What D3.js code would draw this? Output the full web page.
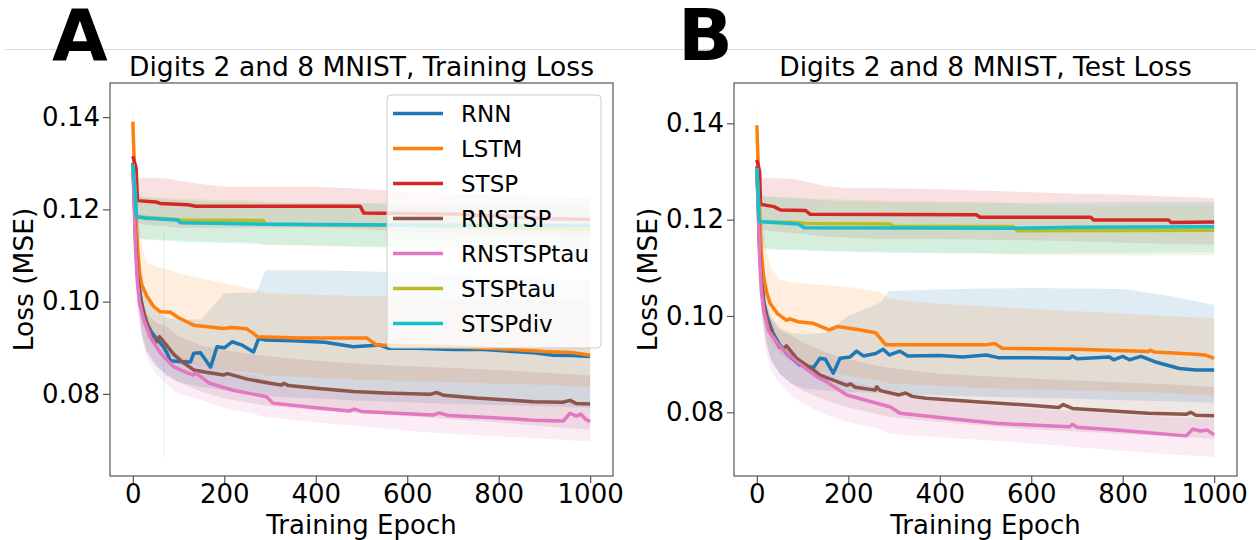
<!DOCTYPE html>
<html><head><meta charset="utf-8">
<script src="https://cdn.jsdelivr.net/npm/d3@7"></script>
<style>
body{margin:0;background:#fff}
svg{display:block}
text{font-family:"DejaVu Sans",sans-serif;fill:#000}
</style>
</head><body><svg id="c" width="1256" height="540"></svg>
<script>
// ---------------- DATA ----------------
const seriesNames = ["RNN","LSTM","STSP","RNSTSP","RNSTSPtau","STSPtau","STSPdiv"];
const seriesColors = ["#1f77b4","#ff7f0e","#d62728","#8c564b","#e377c2","#bcbd22","#17becf"];
const xTicks = [0,200,400,600,800,1000];
const yTicks = [0.08,0.10,0.12,0.14];
const titles = ["Digits 2 and 8 MNIST, Training Loss","Digits 2 and 8 MNIST, Test Loss"];
const panelLetters = ["A","B"];
const xLabel = "Training Epoch";
const yLabel = "Loss (MSE)";

// epochs at which the shaded bands (spread over runs) are read
const bandEpochs = [0,5,10,20,30,50,75,100,150,200,270,290,400,500,600,700,800,900,1000];

// ---- Panel A: training loss, mean curves [epoch, loss] ----
const trainRNN = [[0,0.130],[3,0.124],[6,0.115],[10,0.108],[15,0.1025],[20,0.099],[30,0.0955],[40,0.0935],[50,0.0922],[60,0.091],[67,0.0902],[75,0.0888],[82,0.0872],[100,0.0870],[126,0.0869],[133,0.0888],[148,0.0889],[170,0.0858],[184,0.0902],[200,0.0900],[217,0.0913],[240,0.0905],[264,0.0891],[275,0.0920],[290,0.0917],[350,0.0915],[420,0.0912],[482,0.0902],[540,0.0906],[560,0.0899],[620,0.0899],[700,0.0896],[760,0.0897],[800,0.0894],[876,0.0889],[920,0.0884],[960,0.0883],[1000,0.0881]];
const trainLSTM = [[0,0.139],[3,0.130],[6,0.120],[10,0.112],[15,0.106],[20,0.1035],[31,0.1011],[45,0.099],[60,0.0978],[82,0.0977],[100,0.0965],[133,0.0949],[199,0.0942],[215,0.0944],[249,0.0941],[265,0.0930],[272,0.0924],[365,0.0921],[512,0.0921],[533,0.0906],[600,0.0905],[700,0.0902],[800,0.0898],[900,0.0892],[960,0.0890],[1000,0.0884]];
const trainSTSP = [[0,0.1315],[7,0.129],[10,0.1219],[50,0.1216],[60,0.1213],[120,0.1210],[138,0.1207],[497,0.1207],[505,0.1192],[700,0.1190],[800,0.1185],[900,0.1180],[1000,0.1178]];
const trainRNSTSP = [[0,0.130],[3,0.122],[6,0.113],[10,0.106],[15,0.1015],[24,0.0975],[35,0.094],[43,0.0917],[50,0.0912],[58,0.0924],[70,0.0910],[90,0.0885],[110,0.0868],[133,0.0852],[160,0.0847],[199,0.0841],[207,0.0844],[250,0.0832],[300,0.0823],[325,0.0819],[330,0.0823],[340,0.0818],[400,0.0812],[482,0.0805],[550,0.0802],[650,0.0799],[664,0.0803],[680,0.0797],[750,0.0791],[820,0.0787],[876,0.0783],[940,0.0782],[956,0.0786],[970,0.0779],[1000,0.0778]];
const trainRNSTSPtau = [[0,0.129],[3,0.121],[6,0.111],[10,0.104],[15,0.0995],[24,0.0960],[40,0.0920],[60,0.0889],[89,0.0859],[120,0.0845],[131,0.0841],[138,0.0845],[168,0.0823],[219,0.0808],[260,0.0800],[292,0.0794],[306,0.0780],[400,0.0770],[474,0.0763],[484,0.0767],[500,0.0762],[656,0.0754],[670,0.0759],[690,0.0753],[800,0.0748],[876,0.0743],[941,0.0741],[956,0.0758],[970,0.0752],[980,0.0756],[990,0.0745],[1000,0.0740]];
const trainSTSPtau = [[0,0.1298],[4,0.125],[8,0.1184],[97,0.1178],[105,0.1177],[285,0.1176],[290,0.1168],[600,0.1165],[800,0.1160],[1000,0.1157]];
const trainSTSPdiv = [[0,0.1298],[4,0.125],[8,0.1184],[30,0.1181],[97,0.1177],[105,0.1171],[285,0.1168],[600,0.1166],[1000,0.1165]];

// ---- Panel A: bands (low / high) at bandEpochs ----
const trainRNNLo = [0.1280,0.1100,0.1000,0.0930,0.0890,0.0860,0.0840,0.0825,0.0815,0.0808,0.0800,0.0795,0.0790,0.0785,0.0782,0.0778,0.0776,0.0773,0.0770];
const trainRNNHi = [0.1320,0.1200,0.1130,0.1050,0.1010,0.0980,0.0965,0.0960,0.0962,0.1018,0.1020,0.1068,0.1068,0.1066,0.1063,0.1060,0.1055,0.1050,0.1045];
const trainRNNSpikeEpochs = [67,69];
const trainRNNSpikeLo = [0.0664,0.0664];
const trainRNNSpikeHi = [0.1149,0.1149];
const trainLSTMLo = [0.1343,0.1150,0.1050,0.0960,0.0925,0.0900,0.0885,0.0875,0.0862,0.0852,0.0845,0.0840,0.0835,0.0830,0.0828,0.0825,0.0822,0.0820,0.0815];
const trainLSTMHi = [0.1437,0.1300,0.1200,0.1120,0.1085,0.1076,0.1070,0.1062,0.1050,0.1040,0.1025,0.1018,0.1015,0.1012,0.1010,0.1008,0.1005,0.1003,0.1000];
const trainSTSPLo = [0.1295,0.1290,0.1170,0.1168,0.1166,0.1165,0.1163,0.1160,0.1160,0.1160,0.1160,0.1160,0.1160,0.1158,0.1150,0.1148,0.1145,0.1142,0.1138];
const trainSTSPHi = [0.1335,0.1330,0.1268,0.1268,0.1268,0.1268,0.1267,0.1262,0.1255,0.1249,0.1249,0.1249,0.1249,0.1245,0.1237,0.1235,0.1232,0.1228,0.1224];
const trainRNSTSPLo = [0.1260,0.1090,0.1000,0.0930,0.0895,0.0865,0.0840,0.0825,0.0805,0.0790,0.0778,0.0775,0.0765,0.0758,0.0752,0.0745,0.0738,0.0730,0.0722];
const trainRNSTSPHi = [0.1340,0.1190,0.1090,0.1010,0.0975,0.0955,0.0945,0.0925,0.0905,0.0895,0.0885,0.0882,0.0872,0.0865,0.0860,0.0856,0.0852,0.0846,0.0840];
const trainRNSTSPtauLo = [0.1260,0.1080,0.0990,0.0915,0.0880,0.0845,0.0820,0.0800,0.0787,0.0770,0.0755,0.0750,0.0738,0.0730,0.0720,0.0713,0.0708,0.0703,0.0697];
const trainRNSTSPtauHi = [0.1320,0.1170,0.1070,0.0990,0.0955,0.0925,0.0900,0.0885,0.0865,0.0850,0.0840,0.0830,0.0815,0.0808,0.0800,0.0795,0.0790,0.0785,0.0780];
const trainSTSPtauLo = [0.1285,0.1200,0.1140,0.1138,0.1136,0.1135,0.1134,0.1133,0.1131,0.1130,0.1129,0.1122,0.1120,0.1118,0.1116,0.1114,0.1112,0.1110,0.1108];
const trainSTSPtauHi = [0.1310,0.1290,0.1230,0.1228,0.1227,0.1226,0.1225,0.1224,0.1222,0.1221,0.1220,0.1215,0.1214,0.1212,0.1210,0.1208,0.1206,0.1204,0.1203];
const trainSTSPdivLo = [0.1285,0.1200,0.1137,0.1135,0.1134,0.1133,0.1132,0.1130,0.1128,0.1127,0.1125,0.1124,0.1122,0.1120,0.1118,0.1118,0.1117,0.1116,0.1116];
const trainSTSPdivHi = [0.1310,0.1290,0.1228,0.1226,0.1225,0.1224,0.1222,0.1220,0.1218,0.1216,0.1215,0.1215,0.1214,0.1214,0.1213,0.1213,0.1213,0.1213,0.1212];

// ---- Panel B: test loss, mean curves [epoch, loss] ----
const testRNN = [[0,0.131],[3,0.124],[6,0.115],[10,0.108],[15,0.103],[22,0.100],[35,0.0965],[50,0.094],[65,0.0922],[94,0.0898],[124,0.0893],[138,0.0912],[150,0.0910],[167,0.0881],[182,0.0912],[204,0.0915],[218,0.0927],[233,0.0917],[260,0.0922],[276,0.0931],[290,0.0919],[313,0.0927],[330,0.0917],[400,0.0918],[450,0.0915],[502,0.0919],[530,0.0913],[600,0.0913],[684,0.0912],[690,0.0917],[700,0.0911],[771,0.0915],[780,0.0909],[800,0.0916],[815,0.0909],[840,0.0916],[870,0.0905],[924,0.0891],[960,0.0888],[1000,0.0888]];
const testLSTM = [[0,0.1396],[3,0.131],[6,0.121],[10,0.113],[15,0.108],[22,0.1047],[29,0.1026],[45,0.1005],[65,0.0991],[72,0.0994],[90,0.0988],[122,0.0985],[158,0.0971],[176,0.0978],[220,0.0972],[260,0.0965],[282,0.0940],[400,0.0940],[500,0.0940],[520,0.0943],[537,0.0933],[700,0.0931],[856,0.0926],[860,0.0929],[870,0.0925],[950,0.0921],[980,0.0919],[1000,0.0912]];
const testSTSP = [[0,0.1324],[6,0.1300],[8,0.1232],[37,0.1227],[52,0.1220],[106,0.1219],[117,0.1211],[480,0.1210],[488,0.1205],[730,0.1205],[737,0.1199],[900,0.1199],[907,0.1194],[1000,0.1195]];
const testRNSTSP = [[0,0.131],[3,0.123],[6,0.114],[10,0.107],[15,0.1025],[25,0.0985],[36,0.0957],[50,0.0935],[58,0.0932],[65,0.0938],[87,0.0912],[124,0.0888],[138,0.0877],[197,0.0856],[205,0.0859],[215,0.0852],[259,0.0846],[262,0.0853],[270,0.0845],[311,0.0836],[325,0.0840],[340,0.0833],[370,0.0829],[480,0.0822],[590,0.0815],[660,0.0810],[670,0.0816],[690,0.0808],[856,0.0798],[940,0.0796],[949,0.0800],[960,0.0794],[1000,0.0793]];
const testRNSTSPtau = [[0,0.130],[3,0.122],[6,0.112],[10,0.105],[15,0.101],[25,0.097],[51,0.0936],[87,0.0905],[131,0.0874],[153,0.0863],[197,0.0836],[292,0.0811],[313,0.0798],[451,0.0784],[524,0.0777],[610,0.0773],[684,0.0770],[690,0.0775],[700,0.0769],[800,0.0762],[939,0.0751],[953,0.0765],[970,0.0761],[985,0.0763],[1000,0.0753]];
const testSTSPtau = [[0,0.1307],[3,0.125],[5,0.1196],[90,0.1194],[104,0.1192],[290,0.1191],[300,0.1186],[560,0.1186],[570,0.1177],[1000,0.1178]];
const testSTSPdiv = [[0,0.1307],[3,0.125],[5,0.1196],[90,0.1191],[104,0.1183],[570,0.1182],[700,0.1184],[1000,0.1185]];

// ---- Panel B: bands (low / high) at bandEpochs ----
const testRNNLo = [0.1280,0.1100,0.1020,0.0950,0.0910,0.0880,0.0860,0.0850,0.0845,0.0842,0.0840,0.0838,0.0835,0.0832,0.0830,0.0828,0.0825,0.0823,0.0820];
const testRNNHi = [0.1320,0.1200,0.1120,0.1040,0.1000,0.0975,0.0965,0.0962,0.0965,0.1000,0.1028,0.1052,0.1055,0.1057,0.1058,0.1057,0.1056,0.1042,0.1023];
const testLSTMLo = [0.1340,0.1160,0.1060,0.0980,0.0945,0.0920,0.0905,0.0895,0.0885,0.0875,0.0865,0.0860,0.0855,0.0850,0.0848,0.0845,0.0843,0.0840,0.0835];
const testLSTMHi = [0.1450,0.1320,0.1220,0.1140,0.1100,0.1075,0.1070,0.1068,0.1064,0.1060,0.1050,0.1035,0.1025,0.1020,0.1015,0.1010,0.1005,0.1000,0.0995];
const testSTSPLo = [0.1305,0.1290,0.1180,0.1178,0.1176,0.1175,0.1173,0.1170,0.1165,0.1163,0.1160,0.1160,0.1160,0.1158,0.1157,0.1155,0.1152,0.1150,0.1148];
const testSTSPHi = [0.1345,0.1340,0.1286,0.1286,0.1286,0.1286,0.1285,0.1280,0.1270,0.1265,0.1265,0.1265,0.1263,0.1260,0.1257,0.1254,0.1252,0.1248,0.1245];
const testRNSTSPLo = [0.1270,0.1100,0.1010,0.0945,0.0910,0.0880,0.0860,0.0845,0.0825,0.0810,0.0795,0.0790,0.0780,0.0772,0.0765,0.0760,0.0755,0.0750,0.0745];
const testRNSTSPHi = [0.1340,0.1200,0.1100,0.1025,0.0995,0.0970,0.0960,0.0945,0.0925,0.0910,0.0895,0.0892,0.0880,0.0875,0.0870,0.0866,0.0862,0.0858,0.0852];
const testRNSTSPtauLo = [0.1270,0.1090,0.1000,0.0925,0.0890,0.0860,0.0835,0.0818,0.0795,0.0780,0.0765,0.0755,0.0748,0.0742,0.0735,0.0728,0.0720,0.0713,0.0707];
const testRNSTSPtauHi = [0.1320,0.1170,0.1080,0.1005,0.0970,0.0945,0.0925,0.0905,0.0885,0.0865,0.0850,0.0840,0.0825,0.0815,0.0808,0.0802,0.0795,0.0790,0.0785];
const testSTSPtauLo = [0.1295,0.1150,0.1142,0.1141,0.1140,0.1139,0.1139,0.1138,0.1136,0.1135,0.1134,0.1133,0.1131,0.1129,0.1126,0.1126,0.1126,0.1126,0.1126];
const testSTSPtauHi = [0.1320,0.1250,0.1250,0.1249,0.1248,0.1247,0.1246,0.1245,0.1243,0.1242,0.1241,0.1238,0.1237,0.1236,0.1232,0.1231,0.1230,0.1230,0.1230];
const testSTSPdivLo = [0.1295,0.1150,0.1140,0.1139,0.1138,0.1137,0.1137,0.1136,0.1134,0.1133,0.1132,0.1131,0.1130,0.1130,0.1129,0.1130,0.1131,0.1132,0.1133];
const testSTSPdivHi = [0.1320,0.1250,0.1248,0.1248,0.1247,0.1246,0.1245,0.1244,0.1240,0.1238,0.1237,0.1237,0.1236,0.1235,0.1235,0.1236,0.1237,0.1237,0.1237];

// ---------------- BUILD ----------------
const zipBand = (ep, lo, hi) => ep.map((e, i) => ({e, lo: lo[i], hi: hi[i]}));
const panels = [
  {
    title: titles[0], letter: panelLetters[0],
    box: {l: 110, r: 613, t: 83, b: 476}, yDomain: [0.0622, 0.1474],
    yLabelX: 33, letterX: 52, legend: true,
    means: [trainRNN, trainLSTM, trainSTSP, trainRNSTSP, trainRNSTSPtau, trainSTSPtau, trainSTSPdiv],
    bands: [
      [zipBand(bandEpochs, trainRNNLo, trainRNNHi), zipBand(trainRNNSpikeEpochs, trainRNNSpikeLo, trainRNNSpikeHi)],
      [zipBand(bandEpochs, trainLSTMLo, trainLSTMHi)],
      [zipBand(bandEpochs, trainSTSPLo, trainSTSPHi)],
      [zipBand(bandEpochs, trainRNSTSPLo, trainRNSTSPHi)],
      [zipBand(bandEpochs, trainRNSTSPtauLo, trainRNSTSPtauHi)],
      [zipBand(bandEpochs, trainSTSPtauLo, trainSTSPtauHi)],
      [zipBand(bandEpochs, trainSTSPdivLo, trainSTSPdivHi)]
    ]
  },
  {
    title: titles[1], letter: panelLetters[1],
    box: {l: 734, r: 1237, t: 83, b: 476}, yDomain: [0.06677, 0.14837],
    yLabelX: 657, letterX: 678, legend: false,
    means: [testRNN, testLSTM, testSTSP, testRNSTSP, testRNSTSPtau, testSTSPtau, testSTSPdiv],
    bands: [
      [zipBand(bandEpochs, testRNNLo, testRNNHi)],
      [zipBand(bandEpochs, testLSTMLo, testLSTMHi)],
      [zipBand(bandEpochs, testSTSPLo, testSTSPHi)],
      [zipBand(bandEpochs, testRNSTSPLo, testRNSTSPHi)],
      [zipBand(bandEpochs, testRNSTSPtauLo, testRNSTSPtauHi)],
      [zipBand(bandEpochs, testSTSPtauLo, testSTSPtauHi)],
      [zipBand(bandEpochs, testSTSPdivLo, testSTSPdivHi)]
    ]
  }
];

const svg = d3.select("#c");
svg.append("rect").attr("width",1256).attr("height",540).attr("fill","#fff");

// faint frame line of the composed figure
svg.append("line").attr("x1",5).attr("x2",1256).attr("y1",49.5).attr("y2",49.5)
  .attr("stroke","#dcdcdc").attr("stroke-width",1);

const FS = 26;

panels.forEach((p, pi) => {
  const {l, r, t, b} = p.box;
  const x = d3.scaleLinear().domain([-50, 1050]).range([l, r]);
  const y = d3.scaleLinear().domain(p.yDomain).range([b, t]);
  const g = svg.append("g");

  const clipId = "clip" + pi;
  g.append("clipPath").attr("id", clipId).append("rect")
    .attr("x", l).attr("y", t).attr("width", r - l).attr("height", b - t);
  const plot = g.append("g").attr("clip-path", `url(#${clipId})`);

  const area = d3.area().x(d => x(d.e)).y0(d => y(d.lo)).y1(d => y(d.hi));
  const line = d3.line().x(d => x(d[0])).y(d => y(d[1]));

  p.bands.forEach((bs, si) => {
    bs.forEach(bd => {
      plot.append("path").attr("d", area(bd))
        .attr("fill", seriesColors[si]).attr("fill-opacity", 0.14).attr("stroke", "none");
    });
  });
  p.means.forEach((m, si) => {
    plot.append("path").attr("d", line(m))
      .attr("fill", "none").attr("stroke", seriesColors[si])
      .attr("stroke-width", 3.5).attr("stroke-linejoin", "round").attr("stroke-linecap", "butt");
  });

  // axes
  const xAxis = d3.axisBottom(x).tickValues(xTicks).tickFormat(d3.format("d")).tickSize(7).tickPadding(2);
  const yAxis = d3.axisLeft(y).tickValues(yTicks).tickFormat(d3.format(".2f")).tickSize(7).tickPadding(3);
  const gx = g.append("g").attr("transform", `translate(0,${b})`).call(xAxis);
  const gy = g.append("g").attr("transform", `translate(${l},0)`).call(yAxis);
  [gx, gy].forEach(a => {
    a.select(".domain").remove();
    a.selectAll(".tick line").attr("stroke", "#555").attr("stroke-width", 1.2);
    a.selectAll(".tick text").attr("font-size", FS).attr("fill", "#000")
      .attr("font-family", '"DejaVu Sans", sans-serif');
  });
  // frame
  g.append("rect").attr("x", l).attr("y", t).attr("width", r - l).attr("height", b - t)
    .attr("fill", "none").attr("stroke", "#555").attr("stroke-width", 1.2);

  // labels
  g.append("text").attr("x", (l + r) / 2).attr("y", 76).attr("text-anchor", "middle")
    .attr("font-size", 26.5).text(p.title);
  g.append("text").attr("x", (l + r) / 2).attr("y", 534).attr("text-anchor", "middle")
    .attr("font-size", FS).text(xLabel);
  g.append("text").attr("transform", `translate(${p.yLabelX},${(t + b) / 2}) rotate(-90)`)
    .attr("text-anchor", "middle").attr("font-size", 26.5).text(yLabel);

  // panel letter
  svg.append("text").attr("x", p.letterX).attr("y", 60)
    .attr("font-family", '"Liberation Sans", Arial, sans-serif').attr("font-weight", "bold")
    .attr("font-size", 72).text(p.letter);

  if (p.legend) {
    const lg = g.append("g");
    const lx = 387, ly = 95, lw = 214, lh = 253;
    lg.append("rect").attr("x", lx).attr("y", ly).attr("width", lw).attr("height", lh)
      .attr("rx", 4).attr("fill", "#fff").attr("fill-opacity", 0.8)
      .attr("stroke", "#cccccc").attr("stroke-width", 1);
    seriesNames.forEach((n, i) => {
      const cy = 113.5 + i * 35;
      lg.append("line").attr("x1", 393).attr("x2", 443).attr("y1", cy).attr("y2", cy)
        .attr("stroke", seriesColors[i]).attr("stroke-width", 3.5);
      lg.append("text").attr("x", 461).attr("y", cy).attr("dy", "0.36em")
        .attr("font-size", 23).text(n);
    });
  }
});
</script>
</body></html>
